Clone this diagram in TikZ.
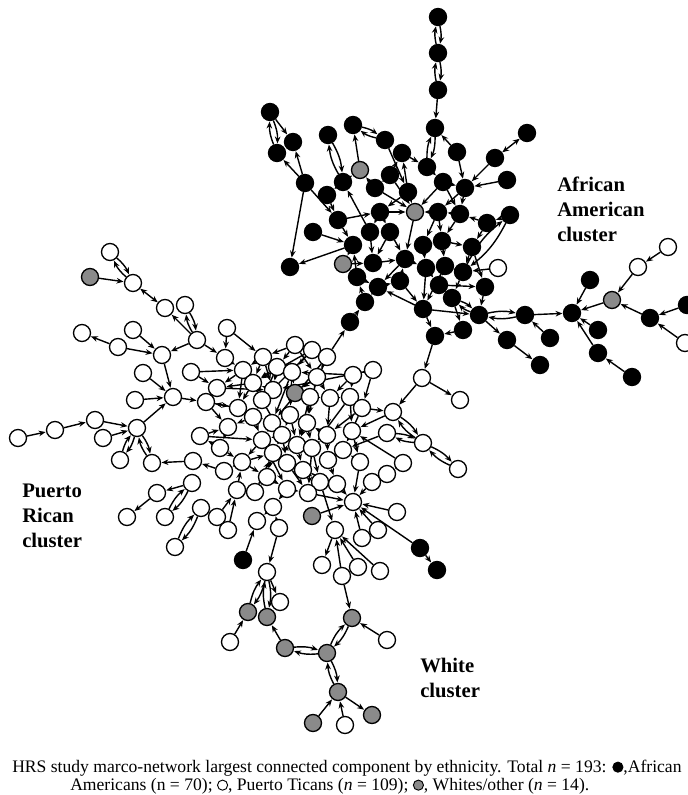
\documentclass[tikz,border=0pt]{standalone}
\usepackage{fontspec}
\setmainfont{Liberation Serif}
\usetikzlibrary{arrows.meta,backgrounds}
\definecolor{nodegray}{RGB}{138,138,138}
\newcommand\legdot[1]{\tikz[baseline=-0.6ex]\draw[line width=0.7pt,fill=#1] (0,0) circle (3.8pt);}
\tikzset{
 nd/.style={circle,draw=black,line width=1pt,minimum size=12.75pt,inner sep=0pt},
 bn/.style={nd,fill=black},
 wn/.style={nd,fill=white},
 gn/.style={nd,fill=nodegray},
 arr/.style={line width=1.05pt,-{Stealth[length=5.2pt,width=4.2pt]},shorten >=0.3pt},
 arrtwo/.style={line width=1.05pt,{Stealth[length=5.2pt,width=4.2pt]}-{Stealth[length=5.2pt,width=4.2pt]}},
 lbl/.style={font=\bfseries\fontsize{15.5}{18.5}\selectfont,align=left,anchor=north west,inner sep=0pt},
 capt/.style={font=\fontsize{13.2}{15}\selectfont,anchor=base west,inner sep=0pt}
}
\begin{document}
\begin{tikzpicture}[x=0.75pt,y=-0.75pt]
\useasboundingbox (0,0) rectangle (687,795);
\begin{scope}[on background layer]
\fill[white] (0,0) rectangle (687,795);
\end{scope}
% black nodes
\foreach \n/\x/\y in {a1/438/17,a2/438/53,a3/438/90,a4/435/128,a5/270/112,a6/293/142,a7/277/153,a8/353/125,a9/385/140,a10/328/135,a11/402/153,a12/457/152,a13/527/133,a14/495/158,a15/427/167,a17/305/183,a18/343/182,a19/390/175,a20/375/188,a21/443/182,a22/465/188,a23/507/180,a24/327/195,a25/408/192,a26/380/212,a28/438/212,a29/460/214,a30/487/223,a31/510/215,a32/338/220,a33/313/232,a34/370/232,a35/390/232,a36/353/245,a37/423/245,a38/442/241,a39/472/247,a40/290/267,a42/373/263,a43/405/259,a44/426/268,a45/445/266,a46/463/272,a48/357/277,a49/378/287,a50/400/281,a51/439/285,a52/485/287,a53/365/302,a54/452/298,a55/423/309,a56/479/315,a57/525/315,a58/350/322,a59/463/330,a60/435/336,a61/507/340,a62/550/338,a63/540/365,a64/572/313,a65/590/280,a67/598/330,a68/598/353,a69/632/377,a72/650/318,a73/687/305,k1/243/560,k2/420/548,k3/437/570}
  \node[bn] (\n) at (\x,\y) {};
% gray nodes
\foreach \n/\x/\y in {a16/360/170,a27/415/212,a41/343/264,a66/612/300,p2/90/277,p46/295/393,p87/312/516,g1/248/612,g2/267/617,g5/285/648,g6/327/653,g7/352/618,g9/338/692,g10/313/723,g12/372/715}
  \node[gn] (\n) at (\x,\y) {};
% white nodes
\foreach \n/\x/\y in {a47/498/268,a70/638/267,a71/668/247,a74/685/343,p1/110/252,p3/133/283,p4/165/308,p5/185/305,p6/197/340,p7/227/328,p8/225/358,p9/82/333,p10/118/347,p11/133/330,p12/162/355,p13/143/373,p14/191/372,p15/173/397,p16/135/400,p17/206/402,p18/217/388,p19/18/438,p20/55/430,p21/95/420,p22/137/428,p23/103/438,p24/120/460,p25/152/463,p26/200/436,p27/193/461,p28/192/483,p29/157/493,p30/127/517,p31/165/517,p32/201/508,p33/224/471,p34/237/490,p35/255/492,p36/263/357,p37/295/345,p38/312/350,p39/327/357,p40/243/370,p41/277/367,p42/292/372,p43/317/377,p44/253/383,p45/273/390,p47/310/397,p48/330/398,p49/350/397,p50/353/375,p51/373/370,p52/238/408,p53/262/400,p54/290/415,p55/253/417,p56/272/423,p57/307/423,p58/228/427,p59/282/435,p60/262/440,p61/297/445,p62/312/448,p63/327/435,p64/220/448,p65/242/462,p66/273/453,p67/287/463,p68/303/470,p69/362/408,p70/393/412,p71/422/378,p72/460/400,p73/352/431,p74/387/433,p75/423/443,p76/458/469,p77/343/450,p78/328/460,p79/360/462,p80/403/463,p81/320/482,p82/337/484,p83/372/482,p84/387/474,p85/308/493,p86/353/502,p88/397/512,p89/335/530,p90/362/538,p91/378/530,p92/322/565,p93/342/576,p94/358/567,p95/380/571,p96/267/477,p97/287/489,p98/257/521,p99/273/507,p100/279/528,p101/228/530,p102/217/517,p103/175/547,p104/267/572,g3/280/602,g4/230/642,g8/387/640,g11/345/725}
  \node[wn] (\n) at (\x,\y) {};
% connectors
\begin{scope}[on background layer]
\foreach \s/\t in {a3/a4,a12/a4,a5/a6,a17/a7,a17/a6,a16/a8,a14/a22,a23/a22,a12/a22,a17/a40,a17/a32,a36/a40,a34/a18,a33/a36,a24/a32,a32/a36,a19/a11,a25/a11,a20/a16,a19/a27,a20/a27,a25/a27,a26/a27,a21/a27,a28/a27,a27/a43,a15/a21,a22/a29,a29/a28,a30/a29,a31/a30,a47/a46,a51/a52,a57/a64,a62/a57,a56/a61,a61/a63,a65/a64,a66/a64,a67/a64,a68/a64,a69/a68,a70/a66,a71/a70,a72/a66,a73/a72,a74/a72,a55/a60,a59/a60,a60/p71,a58/a53,a53/a48,a41/a42,a42/a43,a43/a49,a49/a53,a55/a49,a44/a55,a45/a55,a46/a54,a51/a54,a39/a46,a38/a45,a37/a44,a29/a38,a28/a37,a35/a42,a30/a39,a26/a35,a9/a25,a11/a15,a18/a16,a36/a41,a50/a43,a54/a59,a55/a56,p39/a58,a48/a36,a18/a24,a21/a22,
a32/a26,a34/a42,a35/a43,a26/a34,a37/a38,a38/a39,a43/a44,a44/a51,a49/a50,a50/a55,a48/a49,a52/a56,a46/a45,a45/a51,a28/a38,a21/a29,a19/a20,a25/a26,a22/a28,a39/a52,
p2/p3,p6/p4,p10/p9,p10/p12,p11/p12,p6/p12,p7/p8,p6/p8,p12/p15,p13/p15,p16/p15,p15/p17,p14/p18,p19/p20,p20/p21,p21/p22,p23/p22,p22/p15,p33/p27,p27/p25,p28/p29,p29/p30,p8/p40,p17/p52,p26/p58,p64/p26,
p36/p40,p37/p36,p37/p41,p38/p42,p39/p38,p39/p43,p40/p18,p41/p44,p42/p46,p43/p46,p44/p18,p44/p52,p45/p44,p46/p47,p47/p48,p48/p49,p50/p49,p51/p50,p49/p69,p69/p70,p70/p73,p71/p70,p71/p72,p45/p53,p53/p55,p54/p56,p55/p58,p56/p60,p57/p54,p58/p64,p59/p60,p60/p65,p61/p62,p62/p63,p63/p57,p65/p33,p66/p67,p67/p68,p68/p81,p66/p96,p96/p97,p97/p99,p99/p98,p100/p99,p34/p65,p35/p66,p101/p34,p102/p34,p52/p17,p18/p17,p39/p56,p51/p45,p50/p42,p38/p53,p43/p57,p47/p61,p48/p63,p49/p73,p69/p77,p73/p77,p77/p78,p78/p82,p79/p77,p84/p83,p83/p86,p80/p73,p62/p85,p67/p85,p61/p66,p59/p66,p54/p59,p57/p62,p42/p54,p41/p45,p40/p52,p36/p44,p60/p97,p65/p96,p79/p86,p85/p86,p87/p86,p88/p86,p91/p86,p90/p86,k2/p86,k2/k3,p81/p89,p89/p92,p93/p89,p94/p89,p95/p89,k1/p98,p100/p104,p104/g3,g4/g1,g5/g2,g8/g7,p93/g7,g10/g9,g11/g9,g9/g12,p80/p84,p18/p45,p52/p56,p26/p60,p64/p65,
p36/p45,p38/p44,p39/p47,p43/p48,p47/p57,p49/p62,p69/p63,p74/p77,p63/p78,p61/p68,p59/p67,p55/p60,p53/p59,p52/p55,p65/p66,p68/p82,p62/p81,p57/p61,p54/p61,p41/p53,p42/p56,p40/p53,p17/p58,p14/p40,p7/p36,p37/p43,p51/p69,p50/p48,p73/p79,p82/p86,p96/p35,p97/p85}
  \draw[arr] (\s) -- (\t);
\foreach \s/\t in {a1/a2,a2/a3,a4/a15,a5/a7,a8/a9,a10/a18,a31/a46,a57/a56,a54/a56,p1/p3,p5/p6,p22/p24,p22/p25,p31/p28,p103/p32,p74/p75,p75/p76,p104/g1,p104/g2,g5/g6,g6/g7,g6/g9,p70/p75}
  {\draw[arr] (\s) to[bend left=12] (\t); \draw[arr] (\t) to[bend left=12] (\s);}
\foreach \s/\t in {a13/a14,p4/p3}
  \draw[arrtwo] (\s) -- (\t);
\end{scope}
% labels
\node[lbl] (labAA) at (557,177) {African\\American\\cluster};
\node[lbl] (labPR) at (22,484) {Puerto\\Rican\\cluster};
\node[lbl] (labW) at (420,658) {White\\cluster};
% caption
\node[capt] (cap1) at (12,772) {HRS study marco-network largest connected component by ethnicity. Total \textit{n} = 193: \legdot{black},African};
\node[capt] (cap2) at (70,790) {Americans (n = 70); \legdot{white}, Puerto Ticans (\textit{n} = 109); \legdot{nodegray}, Whites/other (\textit{n} = 14).};
\end{tikzpicture}
\end{document}
